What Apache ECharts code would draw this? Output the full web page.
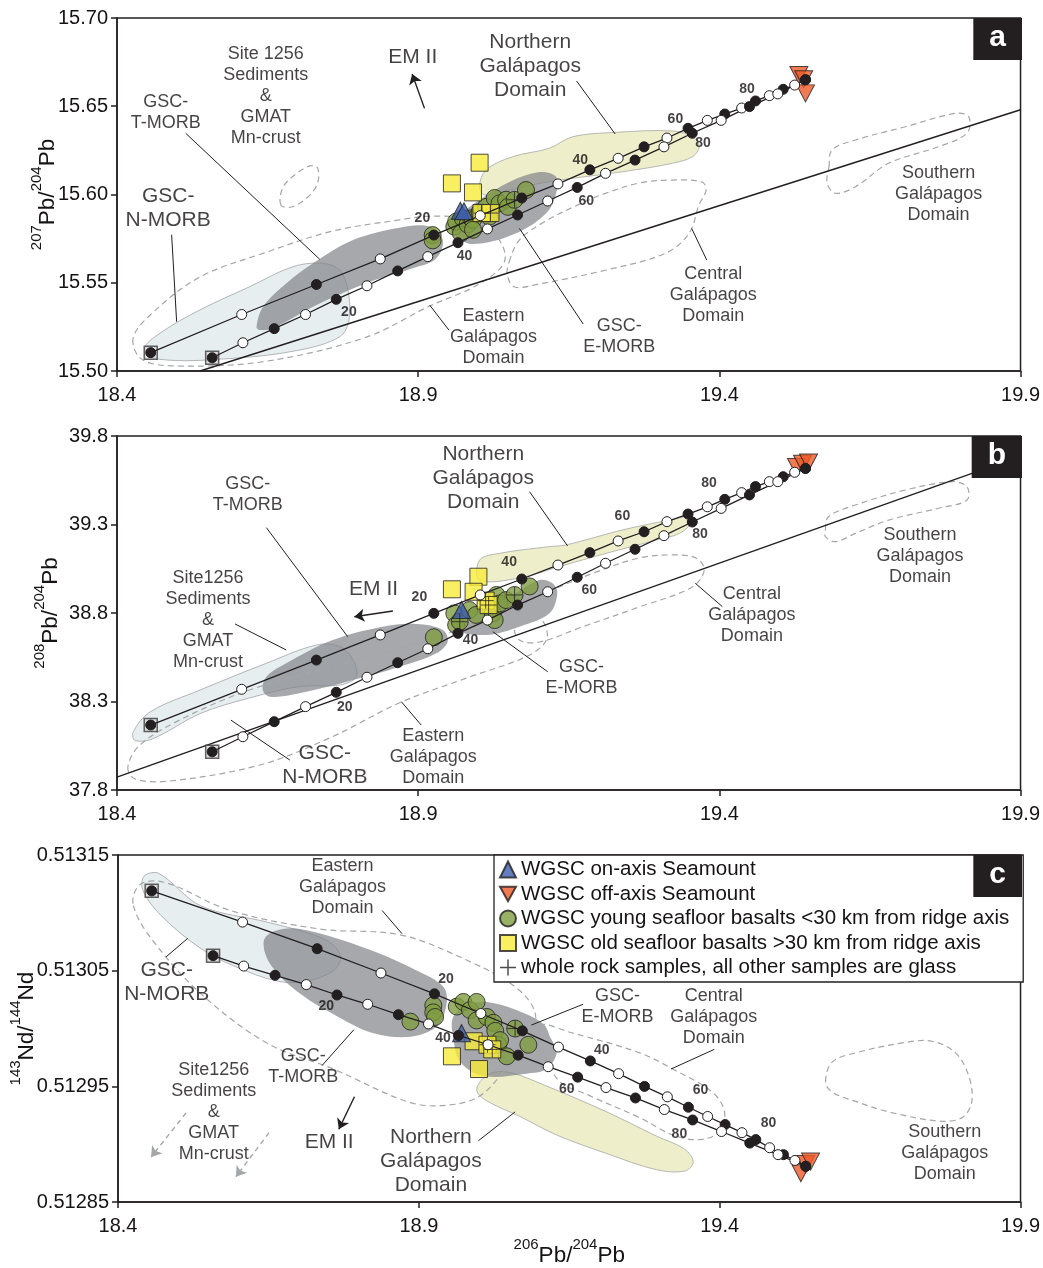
<!DOCTYPE html>
<html><head><meta charset="utf-8">
<script src="https://cdn.jsdelivr.net/npm/echarts@6/dist/echarts.min.js"></script>
<style>html,body{margin:0;padding:0;background:#fff}#c{width:1043px;height:1268px}</style>
</head><body><div id="c"></div>
<script>
// ---------------- axes ----------------
const xTicks = [18.4, 18.9, 19.4, 19.9];
const yTicksA = [15.50, 15.55, 15.60, 15.65, 15.70];
const yTicksB = [37.8, 38.3, 38.8, 39.3, 39.8];
const yTicksC = [0.51285, 0.51295, 0.51305, 0.51315];

// ---------------- mixing curves (shared 206Pb/204Pb, 5% steps) ----------------
const mixUpperX = [18.456, 18.607, 18.731, 18.837, 18.926, 19.003, 19.072, 19.132, 19.185, 19.232, 19.275, 19.313, 19.348, 19.380, 19.409, 19.437, 19.460, 19.483, 19.506, 19.525, 19.543];
const mixLowerX = [18.558, 18.609, 18.661, 18.713, 18.764, 18.815, 18.866, 18.916, 18.966, 19.015, 19.065, 19.115, 19.164, 19.211, 19.260, 19.308, 19.355, 19.403, 19.450, 19.497, 19.543];
const mixUpperYA = [15.5104, 15.532, 15.549, 15.5635, 15.577, 15.588, 15.598, 15.606, 15.614, 15.6205, 15.627, 15.632, 15.6375, 15.642, 15.6456, 15.649, 15.653, 15.656, 15.6596, 15.662, 15.665];
const mixLowerYA = [15.5075, 15.516, 15.524, 15.532, 15.5406, 15.5483, 15.5567, 15.5648, 15.5727, 15.5805, 15.5884, 15.5963, 15.604, 15.612, 15.6195, 15.627, 15.6347, 15.642, 15.6498, 15.657, 15.665];
const mixUpperYB = [38.167, 38.369, 38.534, 38.676, 38.798, 38.902, 38.992, 39.071, 39.141, 39.207, 39.259, 39.316, 39.359, 39.400, 39.442, 39.480, 39.514, 39.542, 39.570, 39.595, 39.617];
const mixLowerYB = [38.016, 38.101, 38.186, 38.271, 38.352, 38.437, 38.519, 38.598, 38.685, 38.760, 38.845, 38.920, 39.002, 39.081, 39.160, 39.237, 39.314, 39.391, 39.467, 39.542, 39.617];
const mixUpperYC = [0.513119, 0.513092, 0.513069, 0.513048, 0.513030, 0.513013, 0.512998, 0.512984, 0.512972, 0.512961, 0.512950, 0.512941, 0.512932, 0.512924, 0.512917, 0.512910, 0.512904, 0.512897, 0.512891, 0.512886, 0.512881];
const mixLowerYC = [0.513063, 0.513054, 0.513046, 0.513038, 0.513029, 0.513021, 0.513012, 0.513004, 0.512994, 0.512986, 0.512977, 0.512967, 0.512958, 0.512949, 0.512940, 0.512930, 0.512921, 0.512911, 0.512901, 0.512891, 0.512881];

// mixing percentage labels [x, y, text]
const mixLabelsA = [[18.907,15.5867,'20'],[19.169,15.6195,'40'],[19.327,15.6428,'60'],[19.446,15.6598,'80'],[18.785,15.5334,'20'],[18.977,15.5651,'40'],[19.179,15.5963,'60'],[19.373,15.6292,'80']];
const mixLabelsB = [[18.902,38.890,'20'],[19.051,39.088,'40'],[19.239,39.348,'60'],[19.383,39.534,'80'],[18.778,38.269,'20'],[18.987,38.647,'40'],[19.184,38.930,'60'],[19.368,39.246,'80']];
const mixLabelsC = [[18.945,0.513043,'20'],[19.204,0.512981,'40'],[19.368,0.512947,'60'],[19.481,0.512918,'80'],[18.746,0.513019,'20'],[18.940,0.512992,'40'],[19.146,0.512948,'60'],[19.333,0.512909,'80']];

// Northern Hemisphere reference line
const nhrlA = [[18.538, 15.500], [19.9, 15.648]];
const nhrlB = [[18.4, 37.873], [19.9, 39.686]];

// ---------------- samples ----------------
const greenA = [[18.924,15.577],[18.924,15.574],[18.960,15.5818],[18.963,15.5846],[18.971,15.578],[18.974,15.5865],[18.982,15.583],[18.988,15.5865],[18.991,15.5856],[18.991,15.580],[19.002,15.590],[19.013,15.593],[19.018,15.5874],[19.027,15.598],[19.035,15.595],[19.046,15.597],[19.049,15.593],[19.060,15.597],[19.079,15.6025]];
const yellowA = [[19.002,15.618],[18.956,15.6063],[18.991,15.6012],[19.005,15.5895],[19.020,15.5895]];
const blueA = [[18.970,15.5908],[18.976,15.5905]];
const redA = [[19.532,15.6677],[19.540,15.6653],[19.543,15.6573]];
const wholeRockA = [[19.060,15.597],[19.005,15.5895],[19.020,15.5895]];

const greenB = [[18.926,38.663],[18.960,38.798],[18.963,38.732],[18.969,38.751],[18.985,38.817],[18.996,38.789],[19.024,38.798],[19.027,38.760],[19.030,38.902],[19.035,38.854],[19.046,38.873],[19.060,38.902],[19.085,38.950]];
const yellowB = [[18.956,38.934],[19.000,39.005],[18.992,38.920],[19.012,38.870],[19.017,38.845]];
const blueB = [[18.972,38.817]];
const redB = [[19.528,39.625],[19.538,39.643],[19.548,39.650]];
const wholeRockB = [[18.969,38.751],[19.060,38.902],[19.012,38.870],[19.017,38.845]];

const greenC = [[18.886,0.513006],[18.924,0.513020],[18.924,0.513014],[18.927,0.513010],[18.963,0.513019],[18.974,0.513023],[18.985,0.513016],[18.996,0.513023],[18.996,0.513007],[19.013,0.513010],[19.024,0.513005],[19.027,0.512998],[19.032,0.512986],[19.035,0.512990],[19.046,0.512976],[19.060,0.513000],[19.082,0.512986]];
const yellowC = [[18.991,0.512989],[18.955,0.512976],[19.000,0.512965],[19.014,0.512986],[19.022,0.512982]];
const blueC = [[18.971,0.512996]];
const redC = [[19.535,0.512875],[19.543,0.512883],[19.551,0.512885]];
const wholeRockC = [[19.060,0.513000],[19.014,0.512986],[19.022,0.512982]];

// ---------------- GSC fields ----------------
const nmorbA = [[18.4464,15.5129],[18.4713,15.5066],[18.5928,15.5072],[18.7033,15.5119],[18.7696,15.5194],[18.7851,15.5289],[18.7834,15.5459],[18.7696,15.5572],[18.742,15.561],[18.6922,15.5591],[18.6205,15.5478],[18.5376,15.5346],[18.4713,15.5214]];
const tmorbA = [[18.6316,15.5251],[18.6425,15.5364],[18.6813,15.5497],[18.7254,15.561],[18.7917,15.5742],[18.869,15.5812],[18.9188,15.5818],[18.9408,15.5742],[18.9299,15.5638],[18.8911,15.5582],[18.8139,15.5497],[18.7254,15.5364],[18.6591,15.5242],[18.637,15.5232]];
const emorbA = [[18.957,15.5782],[18.9884,15.572],[19.0597,15.5776],[19.1144,15.5901],[19.131,15.6037],[19.1277,15.6105],[19.1012,15.6127],[19.0514,15.6071],[19.0017,15.5969],[18.9685,15.5884],[18.9553,15.5827]];
const northA = [[19.0017,15.6044],[19.0128,15.6139],[19.0569,15.6214],[19.1177,15.6262],[19.1563,15.6327],[19.2283,15.6352],[19.3221,15.636],[19.3553,15.6327],[19.3664,15.6271],[19.3553,15.6214],[19.3221,15.6177],[19.2392,15.6129],[19.1177,15.6073],[19.0514,15.6025],[19.0099,15.5997]];

const nmorbB = [[18.427,38.129],[18.455,38.241],[18.538,38.365],[18.648,38.516],[18.731,38.619],[18.770,38.610],[18.792,38.534],[18.797,38.440],[18.770,38.393],[18.703,38.385],[18.620,38.320],[18.538,38.232],[18.460,38.090],[18.430,38.080]];
const tmorbB = [[18.642,38.365],[18.648,38.440],[18.681,38.516],[18.758,38.647],[18.841,38.723],[18.897,38.738],[18.941,38.704],[18.949,38.638],[18.930,38.572],[18.869,38.496],[18.792,38.421],[18.703,38.346],[18.654,38.327]];
const emorbB = [[18.957,38.789],[18.963,38.704],[19.013,38.676],[19.068,38.723],[19.118,38.798],[19.131,38.911],[19.123,38.968],[19.101,38.986],[19.051,38.892],[19.002,38.836]];
const northB = [[19.002,38.986],[19.002,39.099],[19.035,39.137],[19.118,39.175],[19.145,39.184],[19.239,39.269],[19.317,39.325],[19.350,39.344],[19.355,39.316],[19.334,39.250],[19.295,39.212],[19.212,39.137],[19.134,39.062],[19.068,38.998]];

const nmorbC = [[18.444,0.513132],[18.468,0.513134],[18.538,0.513106],[18.648,0.513092],[18.725,0.513081],[18.758,0.513072],[18.770,0.513061],[18.758,0.513050],[18.714,0.513041],[18.665,0.513041],[18.593,0.513054],[18.538,0.513069],[18.471,0.513098],[18.441,0.513120]];
const tmorbC = [[18.642,0.513075],[18.659,0.513084],[18.703,0.513086],[18.814,0.513069],[18.897,0.513050],[18.941,0.513036],[18.946,0.513021],[18.930,0.513002],[18.886,0.512993],[18.825,0.512996],[18.770,0.513009],[18.703,0.513030],[18.654,0.513055]];
const emorbC = [[18.957,0.513010],[18.980,0.513020],[19.013,0.513023],[19.062,0.513016],[19.107,0.513004],[19.118,0.512993],[19.129,0.512979],[19.112,0.512965],[19.079,0.512961],[19.007,0.512959],[18.969,0.512971],[18.957,0.512993]];
const northC = [[18.998,0.512951],[19.018,0.512961],[19.051,0.512962],[19.109,0.512951],[19.212,0.512928],[19.295,0.512907],[19.341,0.512896],[19.356,0.512885],[19.343,0.512877],[19.295,0.512878],[19.212,0.512892],[19.129,0.512908],[19.068,0.512924],[19.018,0.512936],[18.998,0.512944]];

// ---------------- Galápagos domains (dashed) ----------------
const eastA = [[18.4265,15.5181],[18.443,15.5062],[18.509,15.5028],[18.649,15.5056],[18.814,15.5192],[18.919,15.5368],[18.998,15.5487],[19.043,15.5618],[19.032,15.5754],[18.985,15.5856],[18.924,15.5878],[18.869,15.5856],[18.758,15.5793],[18.649,15.5674],[18.538,15.5533],[18.455,15.5317]];
const centralA = [[19.051,15.5618],[19.068,15.5742],[19.109,15.5844],[19.172,15.5952],[19.212,15.6008],[19.267,15.6065],[19.322,15.6082],[19.371,15.6071],[19.378,15.6025],[19.366,15.5940],[19.350,15.5782],[19.312,15.5669],[19.212,15.5572],[19.101,15.5493],[19.060,15.5476],[19.048,15.5544]];
const siteA = [[18.672,15.5941],[18.675,15.6037],[18.695,15.6111],[18.720,15.6162],[18.733,15.6150],[18.733,15.6065],[18.717,15.5986],[18.690,15.5929]];
const southA = [[19.582,15.6157],[19.587,15.6252],[19.626,15.6309],[19.709,15.6384],[19.792,15.6460],[19.814,15.6441],[19.811,15.6347],[19.764,15.6271],[19.681,15.6177],[19.626,15.6044],[19.593,15.6007],[19.579,15.6063]];

const eastB = [[18.418,37.930],[18.430,37.862],[18.488,37.851],[18.637,37.941],[18.753,38.094],[18.872,38.297],[18.985,38.438],[19.085,38.563],[19.114,38.659],[19.101,38.777],[19.060,38.806],[18.985,38.732],[18.919,38.647],[18.786,38.523],[18.620,38.365],[18.504,38.195],[18.438,38.054]];
const centralB = [[19.060,38.732],[19.085,38.873],[19.134,38.947],[19.196,39.032],[19.267,39.111],[19.322,39.128],[19.361,39.111],[19.375,39.043],[19.355,38.947],[19.267,38.834],[19.172,38.721],[19.101,38.636],[19.068,38.647]];
const southB = [[19.576,39.269],[19.581,39.344],[19.626,39.410],[19.709,39.495],[19.786,39.542],[19.811,39.514],[19.811,39.438],[19.764,39.392],[19.681,39.325],[19.626,39.250],[19.593,39.203],[19.576,39.231]];

const eastC = [[18.425,0.513108],[18.438,0.513125],[18.480,0.513126],[18.587,0.513102],[18.736,0.513086],[18.869,0.513081],[18.980,0.513059],[19.060,0.513036],[19.093,0.513014],[19.085,0.512989],[19.043,0.512964],[19.002,0.512942],[18.952,0.512934],[18.886,0.512936],[18.758,0.512965],[18.649,0.512987],[18.538,0.513030],[18.455,0.513078]];
const centralC = [[19.101,0.513002],[19.156,0.512996],[19.267,0.512979],[19.322,0.512965],[19.388,0.512945],[19.408,0.512928],[19.400,0.512911],[19.367,0.512904],[19.322,0.512908],[19.267,0.512923],[19.184,0.512942],[19.129,0.512957]];
const southC = [[19.576,0.512954],[19.587,0.512971],[19.626,0.512979],[19.709,0.512988],[19.753,0.512989],[19.792,0.512979],[19.814,0.512959],[19.819,0.512937],[19.803,0.512923],[19.764,0.512920],[19.681,0.512928],[19.626,0.512937],[19.587,0.512945]];

// ---------------- leader lines and arrows ----------------
const leadersA = [[[18.4907,15.5772],[18.499,15.5279]],[[18.514,15.6347],[18.7365,15.5633]],[[19.163,15.6643],[19.227,15.6343]],[[19.068,15.5808],[19.174,15.5266]],[[19.354,15.5808],[19.379,15.5629]],[[18.919,15.5374],[18.951,15.5232]]];
const leadersB = [[[18.648,39.282],[18.783,38.666]],[[18.596,38.738],[18.681,38.591]],[[18.589,38.195],[18.687,37.969]],[[19.085,39.485],[19.148,39.179]],[[19.024,38.694],[19.115,38.468]],[[19.360,38.968],[19.405,38.836]],[[18.872,38.299],[18.905,38.167]]];
const leadersC = [[[18.480,0.513062],[18.516,0.513078]],[[18.839,0.513102],[18.872,0.513082]],[[18.739,0.512968],[18.792,0.512999]],[[19.087,0.513003],[19.173,0.513021]],[[19.319,0.512965],[19.391,0.512982]],[[18.999,0.512903],[19.060,0.512928]]];
const emArrowA = [[[18.9105,15.6488],[18.890,15.6683]]];
const emArrowB = [[[18.858,38.811],[18.794,38.779]]];
const emArrowC = [[[18.793,0.512941],[18.767,0.512913]]];
const siteArrowsC = [[[18.513,0.512927],[18.455,0.512889]],[[18.651,0.512910],[18.596,0.512872]]];

// ---------------- text annotations [x, y, text] ----------------
const textSmallA = [[18.647,15.6558,'Site 1256\nSediments\n&\nGMAT\nMn-crust'],[18.481,15.6462,'GSC-\nT-MORB'],[19.764,15.6003,'Southern\nGalápagos\nDomain'],[19.390,15.5431,'Central\nGalápagos\nDomain'],[19.025,15.5193,'Eastern\nGalápagos\nDomain'],[19.234,15.5198,'GSC-\nE-MORB']];
const textBigA = [[18.891,15.6779,'EM II'],[19.086,15.6728,'Northern\nGalápagos\nDomain'],[18.485,15.5923,'GSC-\nN-MORB']];
const textSmallB = [[18.617,39.467,'GSC-\nT-MORB'],[18.551,38.760,'Site1256\nSediments\n&\nGMAT\nMn-crust'],[18.925,37.986,'Eastern\nGalápagos\nDomain'],[19.171,38.438,'GSC-\nE-MORB'],[19.454,38.789,'Central\nGalápagos\nDomain'],[19.733,39.122,'Southern\nGalápagos\nDomain']];
const textBigB = [[19.008,39.563,'Northern\nGalápagos\nDomain'],[18.826,38.936,'EM II'],[18.745,37.941,'GSC-\nN-MORB']];
const textSmallC = [[18.773,0.513122,'Eastern\nGalápagos\nDomain'],[19.230,0.513019,'GSC-\nE-MORB'],[19.390,0.513010,'Central\nGalápagos\nDomain'],[18.708,0.512967,'GSC-\nT-MORB'],[18.559,0.512928,'Site1256\nSediments\n&\nGMAT\nMn-crust'],[19.774,0.512892,'Southern\nGalápagos\nDomain']];
const textBigC = [[18.481,0.513040,'GSC-\nN-MORB'],[18.751,0.512902,'EM II'],[18.920,0.512885,'Northern\nGalápagos\nDomain']];

const legendNames = ['WGSC on-axis Seamount','WGSC off-axis Seamount','WGSC young seafloor basalts <30 km from ridge axis','WGSC old seafloor basalts >30 km from ridge axis','whole rock samples, all other samples are glass'];

// ---------------- build ----------------
const FONT = 'Liberation Sans, Arial, sans-serif';
const INK = '#231f20';
const TXT = '#161314';
const panels = [
  {top:18, h:353, yMin:15.50, yMax:15.70, yTicks:yTicksA, dec:2, yName:'{s|207}{n|Pb/}{s|204}{n|Pb}', nameGap:58, label:'a',
   upY:mixUpperYA, loY:mixLowerYA, mixLabels:mixLabelsA, nhrl:nhrlA, nmorb:nmorbA, tmorb:tmorbA, emorb:emorbA, north:northA,
   dashed:[eastA,centralA,siteA,southA], leaders:leadersA, em:emArrowA, site:[], green:greenA, yellow:yellowA, blue:blueA, red:redA, cross:wholeRockA, ts:textSmallA, tb:textBigA},
  {top:436, h:354, yMin:37.8, yMax:39.8, yTicks:yTicksB, dec:1, yName:'{s|208}{n|Pb/}{s|204}{n|Pb}', nameGap:55, label:'b',
   upY:mixUpperYB, loY:mixLowerYB, mixLabels:mixLabelsB, nhrl:nhrlB, nmorb:nmorbB, tmorb:tmorbB, emorb:emorbB, north:northB,
   dashed:[eastB,centralB,southB], leaders:leadersB, em:emArrowB, site:[], green:greenB, yellow:yellowB, blue:blueB, red:redB, cross:wholeRockB, ts:textSmallB, tb:textBigB},
  {top:855, h:354, yMin:0.51285, yMax:0.51315, yTicks:yTicksC, dec:5, yName:'{s|143}{n|Nd/}{s|144}{n|Nd}', nameGap:80, label:'c',
   upY:mixUpperYC, loY:mixLowerYC, mixLabels:mixLabelsC, nhrl:null, nmorb:nmorbC, tmorb:tmorbC, emorb:emorbC, north:northC,
   dashed:[eastC,centralC,southC], leaders:leadersC, em:emArrowC, site:siteArrowsC, green:greenC, yellow:yellowC, blue:blueC, red:redC, cross:wholeRockC, ts:textSmallC, tb:textBigC}
];

const nameRich = {n:{fontSize:22.5, fontFamily:FONT, color:TXT, lineHeight:30, verticalAlign:'bottom'}, s:{fontSize:15, fontFamily:FONT, color:TXT, lineHeight:16, verticalAlign:'top'}};

const grids = [], xAxes = [], yAxes = [], series = [], titles = [];
panels.forEach((P, i) => {
  grids.push({left:117, top:P.top, width:905, height:P.h, show:true, borderColor:INK, borderWidth:1.5, backgroundColor:'transparent', containLabel:false});
  xAxes.push({type:'value', gridIndex:i, min:18.4, max:19.9,
    axisLine:{show:true, onZero:false, lineStyle:{color:INK, width:1.5}},
    axisTick:{show:true, inside:false, length:6, lineStyle:{color:INK, width:1.5}, customValues:xTicks},
    axisLabel:{show:true, customValues:xTicks, margin:14, fontSize:20, fontFamily:FONT, color:TXT, formatter:v=>v.toFixed(1)},
    splitLine:{show:false},
    name: i===2 ? '{s|206}{n|Pb/}{s|204}{n|Pb}' : '', nameLocation:'middle', nameGap:34, nameTextStyle:{rich:nameRich}});
  yAxes.push({type:'value', gridIndex:i, min:P.yMin, max:P.yMax,
    axisLine:{show:true, onZero:false, lineStyle:{color:INK, width:1.5}},
    axisTick:{show:true, inside:false, length:6, lineStyle:{color:INK, width:1.5}, customValues:P.yTicks},
    axisLabel:{show:true, customValues:P.yTicks, margin:9, fontSize:20, fontFamily:FONT, color:TXT, formatter:v=>v.toFixed(P.dec)},
    splitLine:{show:false},
    name:P.yName, nameLocation:'middle', nameRotate:90, nameGap:P.nameGap, nameMoveOverlap:false, nameTextStyle:{rich:nameRich}});
  titles.push({text:P.label, right:21, top:P.top, z:20, backgroundColor:INK, padding:[5,16,7,16], itemGap:0,
    textStyle:{color:'#fff', fontSize:30, fontWeight:'bold', fontFamily:FONT, lineHeight:30}});

  const ax = {xAxisIndex:i, yAxisIndex:i, silent:true, animation:false};
  const poly = (pts, style, z) => ({type:'custom', ...ax, z, data:pts,
    renderItem:(params, api) => params.dataIndex === 0 ? {type:'polygon', shape:{points:pts.map(p => api.coord(p)), smooth:0.35}, style:style} : null});
  series.push(poly(P.nmorb, {fill:'#e7eef0', stroke:'#b2b5b8', lineWidth:1}, 1));
  series.push(poly(P.north, {fill:'#eeeecb', stroke:'#b6b8b2', lineWidth:1}, 1));
  series.push(poly(P.tmorb, {fill:'rgba(128,131,135,0.7)'}, 1));
  series.push(poly(P.emorb, {fill:'rgba(128,131,135,0.7)'}, 1));
  P.dashed.forEach(d => series.push(poly(d, {fill:'none', stroke:'#a4a6a9', lineWidth:1.2, lineDash:[6,4]}, 2)));
  if (P.nhrl) series.push({type:'line', ...ax, z:3, data:P.nhrl, symbol:'none', lineStyle:{color:INK, width:1.4}});
  series.push({type:'lines', coordinateSystem:'cartesian2d', ...ax, z:4, data:P.leaders.map(c => ({coords:c})), symbol:['none','none'], lineStyle:{color:INK, width:1, opacity:1}});
  series.push({type:'lines', coordinateSystem:'cartesian2d', ...ax, z:4, data:P.em.map(c => ({coords:c})), symbol:['none','arrow'], symbolSize:10, lineStyle:{color:INK, width:1.4, opacity:1}});
  if (P.site.length) series.push({type:'lines', coordinateSystem:'cartesian2d', ...ax, z:4, data:P.site.map(c => ({coords:c})), symbol:['none','arrow'], symbolSize:10, lineStyle:{color:'#a4a6a9', width:1.4, type:[5,4], opacity:1}});

  const sampleStyle = c => ({color:c, borderColor:INK, borderWidth:1});
  series.push({type:'scatter', ...ax, z:5, name:legendNames[2], data:P.green, symbol:'circle', symbolSize:17, itemStyle:sampleStyle('#7f9c41')});
  series.push({type:'scatter', ...ax, z:5, name:legendNames[3], data:P.yellow, symbol:'rect', symbolSize:17, itemStyle:sampleStyle('#f6eb3a')});
  series.push({type:'scatter', ...ax, z:5, name:legendNames[0], data:P.blue, symbol:'triangle', symbolSize:[18,17], itemStyle:sampleStyle('#3c5ead')});
  series.push({type:'scatter', ...ax, z:5, name:legendNames[1], data:P.red, symbol:'triangle', symbolRotate:180, symbolSize:[18,17], itemStyle:sampleStyle('#ee5a27')});
  series.push({type:'scatter', ...ax, z:6, name:legendNames[4], data:P.cross, symbol:'path://M5,0L5,10M0,5L10,5', symbolSize:16, itemStyle:{color:'transparent', borderColor:INK, borderWidth:1}});

  // end-member squares
  series.push({type:'scatter', ...ax, z:6, data:[[mixUpperX[0], P.upY[0]], [mixLowerX[0], P.loY[0]]], symbol:'rect', symbolSize:13, itemStyle:{color:'#d6d6d6', borderColor:'#3c3c3c', borderWidth:1.5}});
  const mix = (xs, ys) => ({type:'line', ...ax, z:7, symbol:'circle', symbolSize:10, showAllSymbol:true,
    lineStyle:{color:INK, width:1.3},
    data: xs.map((x, k) => ({value:[x, ys[k]], itemStyle:{color: k % 2 === 0 ? INK : '#ffffff', borderColor:INK, borderWidth:1}}))});
  series.push(mix(mixUpperX, P.upY));
  series.push(mix(mixLowerX, P.loY));

  const txt = (items, fs, lh, bold) => ({type:'scatter', ...ax, z:9, symbolSize:1, itemStyle:{color:'transparent'},
    data: items.map(t => ({value:[t[0], t[1]], name:t[2]})),
    label:{show:true, position:'inside', formatter:'{b}', fontSize:fs, lineHeight:lh, fontWeight: bold ? 'bold' : 'normal', color:TXT, textBorderWidth:0, fontFamily:FONT, align:'center', verticalAlign:'middle'}});
  series.push(txt(P.mixLabels, 14, 16, true));
  series.push(txt(P.ts, 18, 21, false));
  series.push(txt(P.tb, 21, 24, false));
});

const chart = echarts.init(document.getElementById('c'), null, {renderer:'canvas'});
chart.setOption({
  animation:false,
  backgroundColor:'#ffffff',
  title:titles,
  grid:grids, xAxis:xAxes, yAxis:yAxes,
  legend:{show:true, orient:'vertical', left:494, top:855, backgroundColor:'#ffffff', borderColor:INK, borderWidth:1.3, borderRadius:0,
    padding:[4,14,4,5], itemGap:3.5, itemWidth:16, itemHeight:16, selectedMode:false, z:8,
    textStyle:{fontSize:20.5, fontFamily:FONT, color:TXT, lineHeight:21},
    data:[
      {name:legendNames[0], icon:'triangle'},
      {name:legendNames[1], icon:'path://M0,0L10,0L5,9Z'},
      {name:legendNames[2], icon:'circle'},
      {name:legendNames[3], icon:'path://M2,2L10,2L10,10L2,10Z'},
      {name:legendNames[4], icon:'path://M5,0L5,10M0,5L10,5', itemStyle:{color:'transparent', borderColor:INK, borderWidth:1.5}}
    ]},
  series:series
});
</script></body></html>
